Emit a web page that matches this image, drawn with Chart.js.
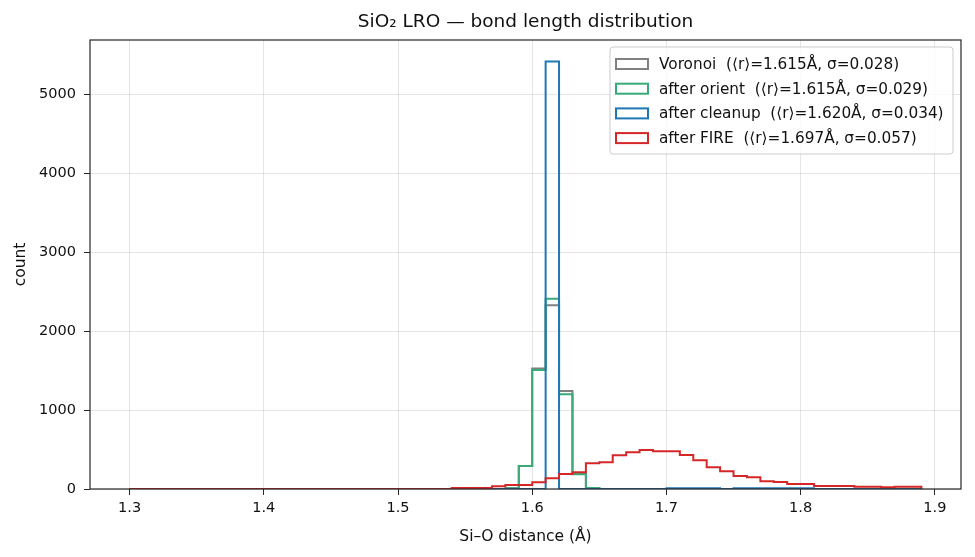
<!DOCTYPE html>
<html>
<head>
<meta charset="utf-8">
<script src="https://cdn.jsdelivr.net/npm/chart.js@4.4.1/dist/chart.umd.min.js"></script>
<style>
  html, body { margin: 0; padding: 0; background: #fff; }
  #wrap { width: 975px; height: 557px; }
</style>
</head>
<body>
<div id="wrap"><canvas id="myChart" width="975" height="557"></canvas></div>
<script>
// bin left edges (width 0.01) and the right edge of the last bin
const binLeft = [
  1.30, 1.31, 1.32, 1.33, 1.34, 1.35, 1.36, 1.37, 1.38, 1.39,
  1.40, 1.41, 1.42, 1.43, 1.44, 1.45, 1.46, 1.47, 1.48, 1.49,
  1.50, 1.51, 1.52, 1.53, 1.54, 1.55, 1.56, 1.57, 1.58, 1.59,
  1.60, 1.61, 1.62, 1.63, 1.64, 1.65, 1.66, 1.67, 1.68, 1.69,
  1.70, 1.71, 1.72, 1.73, 1.74, 1.75, 1.76, 1.77, 1.78, 1.79,
  1.80, 1.81, 1.82, 1.83, 1.84, 1.85, 1.86, 1.87, 1.88
];
const binEnd = 1.89;

// counts per bin
const voronoiCounts = [
  0, 0, 0, 0, 0, 0, 0, 0, 0, 0,
  0, 0, 0, 0, 0, 0, 0, 0, 0, 0,
  0, 0, 0, 0, 0, 0, 0, 0, 10, 290,
  1525, 2326, 1240, 190, 13, 0, 0, 0, 0, 0,
  0, 0, 0, 0, 0, 0, 0, 0, 0, 0,
  0, 0, 0, 0, 0, 0, 0, 0, 0
];
const orientCounts = [
  0, 0, 0, 0, 0, 0, 0, 0, 0, 0,
  0, 0, 0, 0, 0, 0, 0, 0, 0, 0,
  0, 0, 0, 0, 0, 0, 0, 0, 10, 291,
  1505, 2407, 1201, 186, 13, 0, 0, 0, 0, 0,
  0, 0, 0, 0, 0, 0, 0, 0, 0, 0,
  0, 0, 0, 0, 0, 0, 0, 0, 0
];
const cleanupCounts = [
  0, 0, 0, 0, 0, 0, 0, 0, 0, 0,
  0, 0, 0, 0, 0, 0, 0, 0, 0, 0,
  0, 0, 0, 0, 0, 0, 0, 0, 0, 0,
  0, 5413, 0, 0, 0, 0, 0, 0, 0, 0,
  10, 10, 10, 10, 0, 8, 8, 8, 8, 8,
  8, 0, 0, 0, 0, 0, 0, 0, 0
];
const fireCounts = [
  0, 0, 0, 0, 0, 0, 0, 0, 0, 0,
  0, 0, 0, 0, 0, 0, 0, 0, 0, 0,
  0, 0, 0, 0, 13, 13, 13, 34, 51, 51,
  84, 135, 190, 211, 325, 338, 426, 464, 494, 477,
  477, 430, 363, 274, 224, 165, 148, 97, 89, 63,
  63, 38, 38, 38, 30, 30, 21, 30, 30
];

const seriesLabels = [
  'Voronoi  (\u27e8r\u27e9=1.615\u00c5, \u03c3=0.028)',
  'after orient  (\u27e8r\u27e9=1.615\u00c5, \u03c3=0.029)',
  'after cleanup  (\u27e8r\u27e9=1.620\u00c5, \u03c3=0.034)',
  'after FIRE  (\u27e8r\u27e9=1.697\u00c5, \u03c3=0.057)'
];
const seriesColors = ['#808080', '#3aaa78', '#1f77b4', '#d62728'];

const xTicks = [1.3, 1.4, 1.5, 1.6, 1.7, 1.8, 1.9];
const yTicks = [0, 1000, 2000, 3000, 4000, 5000];

const FONT = "'DejaVu Sans', sans-serif";

// turn bin counts into the outline of a step histogram
function stepOutline(counts) {
    const pts = [{ x: binLeft[0], y: 0 }];
    counts.forEach((c, i) => pts.push({ x: binLeft[i], y: c }));
    pts.push({ x: binEnd, y: 0 });
    return pts;
}

function makeDataset(counts, idx) {
    return {
        label: seriesLabels[idx],
        data: stepOutline(counts),
        borderColor: seriesColors[idx],
        backgroundColor: '#ffffff',
        borderWidth: 2,
        borderJoinStyle: 'miter',
        stepped: 'before', // horizontal first, then vertical
        pointRadius: 0,
        fill: false,
        order: 3 - idx // later series drawn on top
    };
}

// full box round the plot + title + legend inside the axes
const framePlugin = {
    id: 'frame',
    afterDatasetsDraw(chart) {
        const { ctx, chartArea: a } = chart;
        ctx.save();
        ctx.strokeStyle = '#262626';
        ctx.lineWidth = 1.2;
        ctx.strokeRect(a.left, a.top, a.right - a.left, a.bottom - a.top);

        // title
        ctx.fillStyle = '#111';
        ctx.font = '18.5px ' + FONT;
        ctx.textAlign = 'center';
        ctx.textBaseline = 'middle';
        ctx.fillText('SiO\u2082 LRO \u2014 bond length distribution', (a.left + a.right) / 2, 22);

        // legend
        const boxW = 343, boxH = 107;
        const bx = a.right - 8 - boxW, by = a.top + 7;
        ctx.globalAlpha = 0.8;
        ctx.fillStyle = '#ffffff';
        ctx.beginPath();
        ctx.roundRect(bx, by, boxW, boxH, 3);
        ctx.fill();
        ctx.globalAlpha = 1;
        ctx.strokeStyle = '#cccccc';
        ctx.lineWidth = 1;
        ctx.stroke();

        ctx.font = '15.3px ' + FONT;
        ctx.textAlign = 'left';
        chart.data.datasets.forEach((ds, i) => {
            const cy = by + 17 + i * 24.7;
            ctx.strokeStyle = ds.borderColor;
            ctx.lineWidth = 2;
            ctx.strokeRect(bx + 6, cy - 5, 32, 10);
            ctx.fillStyle = '#111';
            ctx.fillText(ds.label, bx + 49, cy + 1);
        });
        ctx.restore();
    }
};

const ctx = document.getElementById('myChart').getContext('2d');
new Chart(ctx, {
    type: 'line',
    data: {
        datasets: [
            makeDataset(voronoiCounts, 0),
            makeDataset(orientCounts, 1),
            makeDataset(cleanupCounts, 2),
            makeDataset(fireCounts, 3)
        ]
    },
    options: {
        responsive: false,
        animation: false,
        layout: { padding: { left: 0, right: 14, top: 40, bottom: 0 } },
        scales: {
            x: {
                type: 'linear',
                min: 1.2705,
                max: 1.9195,
                afterBuildTicks: (s) => { s.ticks = xTicks.map(v => ({ value: v })); },
                afterFit: (s) => { s.height = 68; },
                grid: { color: 'rgba(0,0,0,0.1)', tickColor: '#262626', tickLength: 6 },
                border: { display: false },
                ticks: {
                    color: '#111',
                    font: { family: FONT, size: 14.5 },
                    padding: 5,
                    maxRotation: 0,
                    callback: (v) => v.toFixed(1)
                },
                title: {
                    display: true,
                    text: 'Si\u2013O distance (\u00c5)',
                    color: '#111',
                    font: { family: FONT, size: 15.5 },
                    padding: { top: 4, bottom: 11 }
                }
            },
            y: {
                min: 0,
                max: 5684,
                afterBuildTicks: (s) => { s.ticks = yTicks.map(v => ({ value: v })); },
                afterFit: (s) => { s.width = 90; },
                grid: { color: 'rgba(0,0,0,0.1)', tickColor: '#262626', tickLength: 6 },
                border: { display: false },
                ticks: {
                    color: '#111',
                    font: { family: FONT, size: 14.5 },
                    padding: 8,
                    callback: (v) => String(v)
                },
                title: {
                    display: true,
                    text: 'count',
                    color: '#111',
                    font: { family: FONT, size: 15.5 },
                    padding: { top: 11.7, bottom: 4 }
                }
            }
        },
        plugins: {
            legend: { display: false },
            tooltip: { enabled: false }
        }
    },
    plugins: [framePlugin]
});
</script>
</body>
</html>
